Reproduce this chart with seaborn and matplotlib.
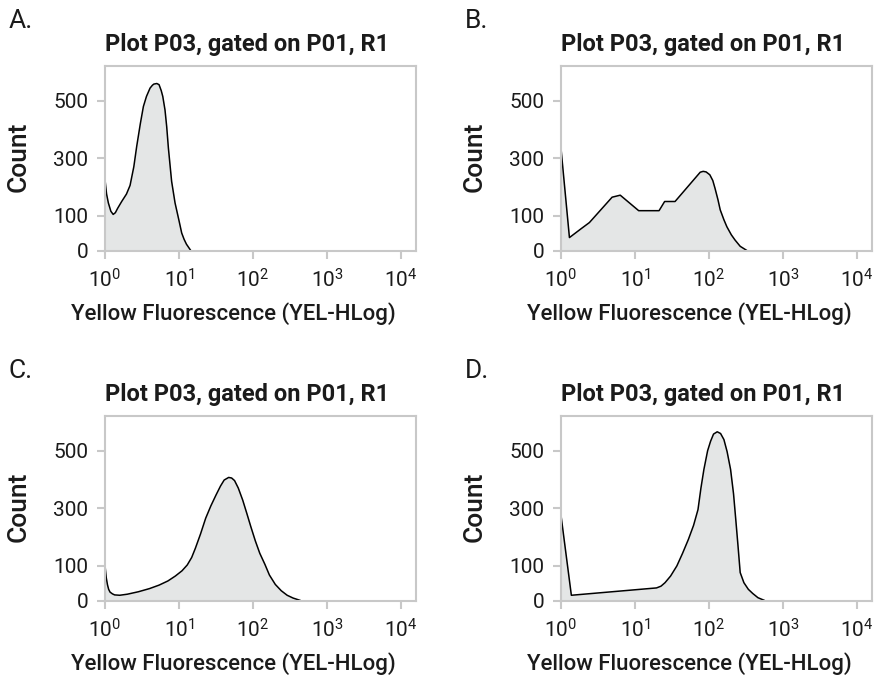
import numpy as np
import matplotlib
matplotlib.use("Agg")
import matplotlib.pyplot as plt
import seaborn as sns

# ---------------- data ----------------
panel_letters = ["A.", "B.", "C.", "D."]
title_text = "Plot P03, gated on P01, R1"
x_label = "Yellow Fluorescence (YEL-HLog)"
y_label = "Count"
y_ticks = [0, 100, 300, 500]
x_ticks = [1, 10, 100, 1000, 10000]

# Panel A
x_a = [1.00, 1.05, 1.11, 1.20, 1.29, 1.38, 1.48, 1.68, 1.95, 2.18, 2.45, 2.68,
       3.00, 3.30, 3.63, 4.06, 4.37, 4.57, 5.01, 5.37, 5.53, 5.75,
       6.03, 6.46, 6.81, 7.18, 7.94, 8.83, 10.0, 10.86, 11.7, 12.59, 14.39]
count_a = [225, 175, 144, 115, 104, 110, 125, 149, 175, 205, 270, 341,
           420, 480, 515, 544, 554, 558, 560, 556, 547, 535,
           515, 468, 410, 335, 219, 144, 85, 50, 32, 18, 0]

# Panel B
x_b = [1.00, 1.30, 1.86, 2.42, 4.90, 6.31, 11.2, 21.1, 25.1, 34.7, 61.7, 75.9,
       83.2, 91.2, 102.3, 112.2, 120.2, 131.8, 141.3, 158.5, 173.8, 199.5,
       223.9, 263.0, 323.6]
count_b = [334, 37, 62, 80, 164, 171, 117, 117, 149, 149, 224, 251,
           254, 252, 242, 222, 195, 155, 120, 88, 68, 45,
           30, 12, 0]

# Panel C
x_c = [1.00, 1.04, 1.08, 1.12, 1.17, 1.26, 1.35, 1.58, 2.00, 2.82, 3.98, 5.37,
       7.08, 8.91, 10.96, 12.9, 14.8, 16.6, 19.5, 22.9, 26.9, 31.6, 36.3,
       40.7, 46.8, 51.3, 56.2, 63.1, 72.4, 82.2, 93.3, 107.2, 123.0, 144.5,
       166.0, 199.5, 239.9, 288.4, 346.7, 436.5]
count_c = [100, 65, 45, 32, 24, 19, 16, 15, 18, 25, 34, 44,
           56, 70, 85, 102, 128, 160, 210, 265, 308, 346, 377,
           398, 407, 405, 396, 370, 328, 282, 235, 186, 143, 104,
           73, 46, 28, 15, 7, 0]

# Panel D
x_d = [1.00, 1.38, 19.5, 22.4, 25.4, 30.2, 36.7, 43.7, 52.5, 61.7, 70.8, 77.6,
       85.1, 95.5, 104.7, 114.8, 128.8, 142.9, 158.5, 175.0, 195.0, 213.8,
       229.1, 245.5, 263.0, 295.1, 338.8, 389.0, 457.1, 562.3]
count_d = [275, 15, 36, 41, 51, 70, 99, 142, 191, 240, 295, 370,
           435, 500, 533, 558, 566, 560, 539, 497, 435, 350,
           261, 170, 80, 51, 32, 20, 8, 0]

panels = [(x_a, count_a), (x_b, count_b), (x_c, count_c), (x_d, count_d)]

# ---------------- style ----------------
sns.set_style("white")
plt.rcParams["font.family"] = ["Roboto", "DejaVu Sans"]
plt.rcParams["mathtext.fontset"] = "custom"
plt.rcParams["mathtext.rm"] = "Roboto"
plt.rcParams["mathtext.it"] = "Roboto:italic"
plt.rcParams["mathtext.bf"] = "Roboto:bold"

TEXT = "#1b1b1b"
GRID_GREY = "#c8c8c8"
FILL = "#e4e6e6"


def fwd(y):
    y = np.asarray(y, dtype=float)
    return np.where(y < 100, y * 1.217, y + 21.7)


def inv(t):
    t = np.asarray(t, dtype=float)
    return np.where(t < 121.7, t / 1.217, t - 21.7)


W, H = 874, 676
fig = plt.figure(figsize=(W / 100, H / 100), dpi=100)

lefts = [105, 561, 105, 561]
bottoms = [250.5, 250.5, 600.5, 600.5]
tops = [66, 66, 416, 416]
letter_pos = [(9, 28), (465, 28), (9, 378), (465, 378)]
ax_w = 311

for i, (xs, ys) in enumerate(panels):
    l, b, t = lefts[i], bottoms[i], tops[i]
    ax = fig.add_axes([l / W, 1 - b / H, ax_w / W, (b - t) / H])
    ax.set_xscale("log")
    ax.set_yscale("function", functions=(fwd, inv))
    ax.fill_between(xs, ys, 0, color=FILL, linewidth=0, zorder=1)
    sns.lineplot(x=xs, y=ys, ax=ax, color="black", linewidth=1.1,
                 sort=False, estimator=None, zorder=2)
    ax.set_xlim(1, 10 ** 4.2)
    ax.set_ylim(0, 621)
    ax.set_xticks(x_ticks)
    ax.xaxis.set_minor_locator(matplotlib.ticker.NullLocator())
    ax.set_yticks(y_ticks)
    ax.set_yticklabels([str(v) for v in y_ticks])
    ax.yaxis.set_minor_locator(matplotlib.ticker.NullLocator())
    for s in ax.spines.values():
        s.set_color(GRID_GREY)
        s.set_linewidth(1.5)
    ax.tick_params(axis="both", which="major", direction="out", length=6,
                   width=1.5, color=GRID_GREY, labelsize=15, labelcolor=TEXT,
                   bottom=True, left=True, pad=6)
    ax.tick_params(axis="x", pad=7)

    ax.set_title(title_text, fontsize=17, fontweight="bold", color=TEXT, pad=11)
    ax.title.set_x(0.457)

    ax.set_xlabel(x_label, fontsize=16, fontweight="medium", color=TEXT)
    ax.xaxis.label.set_va("baseline")
    ax.xaxis.set_label_coords(0.413, -69.5 / (b - t))

    ax.set_ylabel(y_label, fontsize=19, fontweight="medium", color=TEXT)
    ax.yaxis.label.set_va("center")
    ax.yaxis.set_label_coords(-86.5 / ax_w, 0.507)

    lx, ly = letter_pos[i]
    fig.text(lx / W, 1 - ly / H, panel_letters[i], fontsize=19, color=TEXT,
             ha="left", va="baseline")

fig.savefig("out.png", dpi=100, facecolor="white")
